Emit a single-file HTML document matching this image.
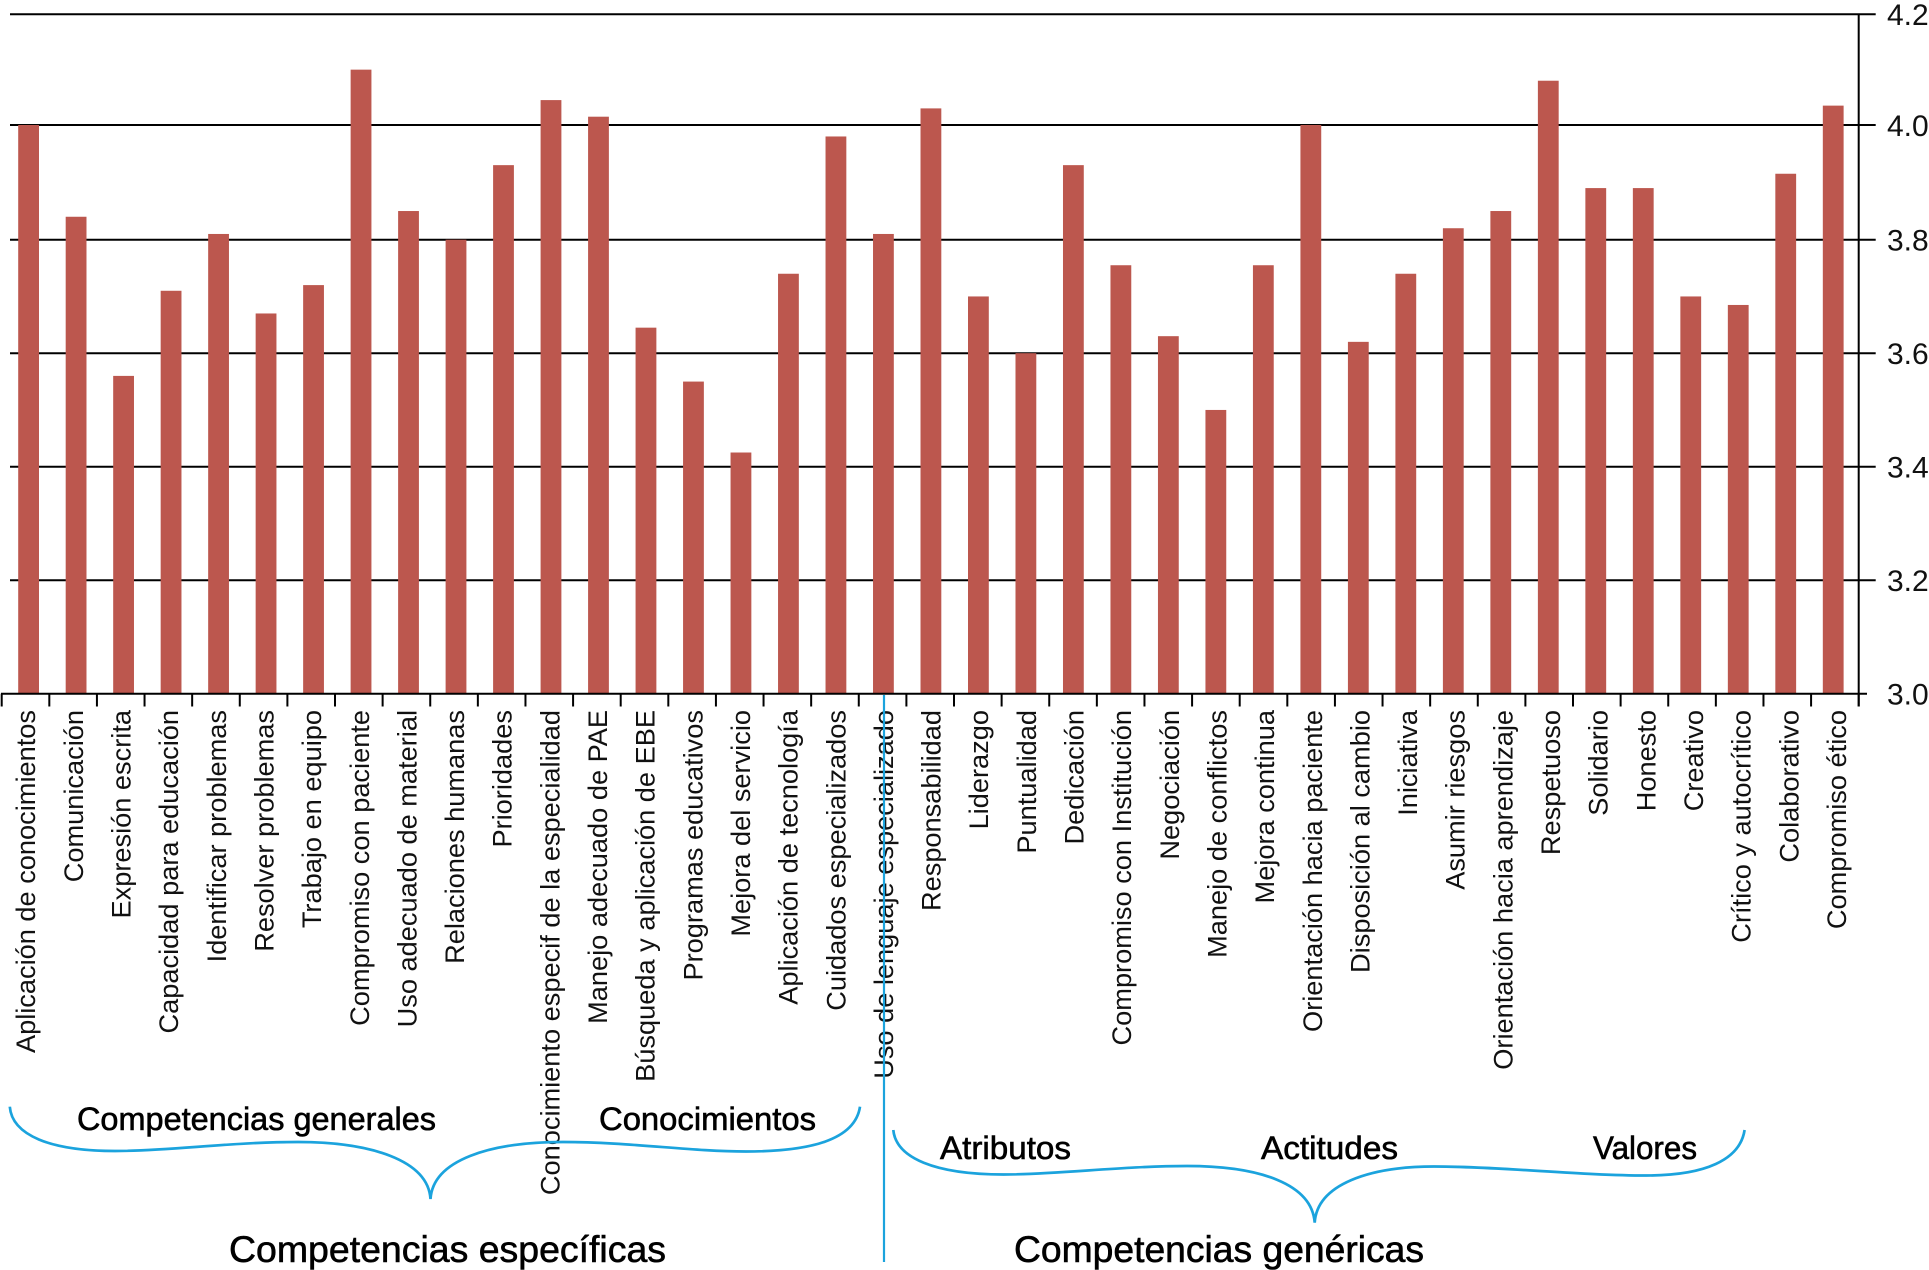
<!DOCTYPE html>
<html lang="es">
<head>
<meta charset="utf-8">
<title>Competencias</title>
<style>
html,body{margin:0;padding:0;background:#fff;width:1929px;height:1270px;overflow:hidden}
svg{display:block;font-family:"Liberation Sans",Arial,sans-serif}
.head{font-size:32.4px;fill:#000;stroke:#000;stroke-width:.6}
.title{font-size:37.3px;fill:#000;stroke:#000;stroke-width:.6}
.brace{fill:none;stroke:#1ba3dd;stroke-width:2.7}
</style>
</head>
<body>
<svg id="chart" xmlns="http://www.w3.org/2000/svg" width="1929" height="1270" viewBox="0 0 1929 1270">
  <g id="grid"></g>
  <g id="bars"></g>
  <g id="axes"></g>
  <g id="ylabels"></g>
  <g id="xlabels"></g>

  <line x1="884" y1="695" x2="884" y2="1262" stroke="#1ba3dd" stroke-width="2.2"/>
  <path class="brace" d="M9.8 1106.7C12 1135 50 1151 115 1151C170 1151 230 1142 298 1142C370 1142 428 1160 430.5 1199C433 1160 490 1142 563 1142C630 1142 690 1151.5 746 1151.5C810 1151.5 855 1140 860 1106.7"/>
  <path class="brace" d="M893.3 1130C896 1158 935 1174.5 1003.5 1174.5C1060 1174.5 1120 1166 1187 1166C1260 1166 1312 1184 1314.7 1222.7C1317 1184 1370 1166.5 1434 1166.5C1500 1166.5 1580 1175.5 1646.5 1175.5C1705 1175.5 1740 1160 1744.6 1130"/>

  <text class="head" x="77" y="1130" textLength="359" lengthAdjust="spacingAndGlyphs">Competencias generales</text>
  <text class="head" x="599" y="1130" textLength="217" lengthAdjust="spacingAndGlyphs">Conocimientos</text>
  <text class="head" x="940" y="1159" textLength="131" lengthAdjust="spacingAndGlyphs">Atributos</text>
  <text class="head" x="1261" y="1159" textLength="137" lengthAdjust="spacingAndGlyphs">Actitudes</text>
  <text class="head" x="1593" y="1159" textLength="104" lengthAdjust="spacingAndGlyphs">Valores</text>
  <text class="title" x="229" y="1262" textLength="437" lengthAdjust="spacingAndGlyphs">Competencias específicas</text>
  <text class="title" x="1014" y="1262" textLength="410" lengthAdjust="spacingAndGlyphs">Competencias genéricas</text>
</svg>
<script>
var categories = [
  "Aplicación de conocimientos","Comunicación","Expresión escrita","Capacidad para educación",
  "Identificar problemas","Resolver problemas","Trabajo en equipo","Compromiso con paciente",
  "Uso adecuado de material","Relaciones humanas","Prioridades","Conocimiento especif de la especialidad",
  "Manejo adecuado de PAE","Búsqueda y aplicación de EBE","Programas educativos","Mejora del servicio",
  "Aplicación de tecnología","Cuidados especializados","Uso de lenguaje especializado","Responsabilidad",
  "Liderazgo","Puntualidad","Dedicación","Compromiso con Institución","Negociación","Manejo de conflictos",
  "Mejora continua","Orientación hacia paciente","Disposición al cambio","Iniciativa","Asumir riesgos",
  "Orientación hacia aprendizaje","Respetuoso","Solidario","Honesto","Creativo","Crítico y autocrítico",
  "Colaborativo","Compromiso ético"
];
var seriesValues = [
  4.00,3.84,3.56,3.71,3.81,3.67,3.72,4.10,3.85,3.80,3.93,4.045,4.015,3.645,3.55,3.425,3.74,3.98,3.81,
  4.03,3.70,3.60,3.93,3.755,3.63,3.50,3.755,4.00,3.62,3.74,3.82,3.85,4.08,3.89,3.89,3.70,3.685,3.915,4.035
];
var yTicks = [3.0,3.2,3.4,3.6,3.8,4.0,4.2];
var yTickLabels = ["3.0","3.2","3.4","3.6","3.8","4.0","4.2"];

var NS = "http://www.w3.org/2000/svg";
function yScale(v){
  if (v <= 3.8) return 693.7 - (v - 3) * 567.5;
  if (v <= 4) return 239.7 - (v - 3.8) * 573.5;
  return 125 - (v - 4) * 553.5;
}
function barCenter(i){ return 28.6 + i * 47.49; }
function tickX(i){ return 1.7 + i * (1857 / categories.length); }
function labelX(i){ return 35.2 + i * 47.65; }
function el(tag, attrs, parent){
  var n = document.createElementNS(NS, tag);
  for (var k in attrs) n.setAttribute(k, attrs[k]);
  parent.appendChild(n);
  return n;
}
var gGrid = document.getElementById("grid");
var gBars = document.getElementById("bars");
var gAxes = document.getElementById("axes");
var gY = document.getElementById("ylabels");
var gX = document.getElementById("xlabels");

yTicks.forEach(function(t, i){
  var yy = yScale(t);
  var isBase = t === yTicks[0];
  var line = el("line", {x1: isBase ? 1 : 10, x2: isBase ? 1867 : 1875.7, y1: yy, y2: yy, stroke: "#000", "stroke-width": 2}, isBase ? gAxes : gGrid);
  
  
  var lab = el("text", {x: 1887, y: yy + 10.8, "font-size": 30, fill: "#111"}, gY);
  lab.textContent = yTickLabels[i];
  
  
});

var yAxis = el("line", {x1: 1858.7, x2: 1858.7, y1: yScale(4.2), y2: 706.5, stroke: "#000", "stroke-width": 2}, gAxes);



for (var t = 0; t <= categories.length; t++){
  var tk = el("line", {x1: tickX(t), x2: tickX(t), y1: 693.7, y2: 706.5, stroke: "#000", "stroke-width": 2}, gAxes);
  
  
}

seriesValues.forEach(function(v, i){
  var top = yScale(v);
  var r = el("rect", {x: barCenter(i) - 10.4, y: top, width: 20.8, height: yScale(3) - top, fill: "#bc574e"}, gBars);
  
  
});

categories.forEach(function(c, i){
  var x = labelX(i);
  var tx = el("text", {x: x, y: 710, "font-size": 27.2, fill: "#111", "text-anchor": "end", transform: "rotate(-90 " + x + " 710)"}, gX);
  tx.textContent = c;
  
  
});
</script>
</body>
</html>
